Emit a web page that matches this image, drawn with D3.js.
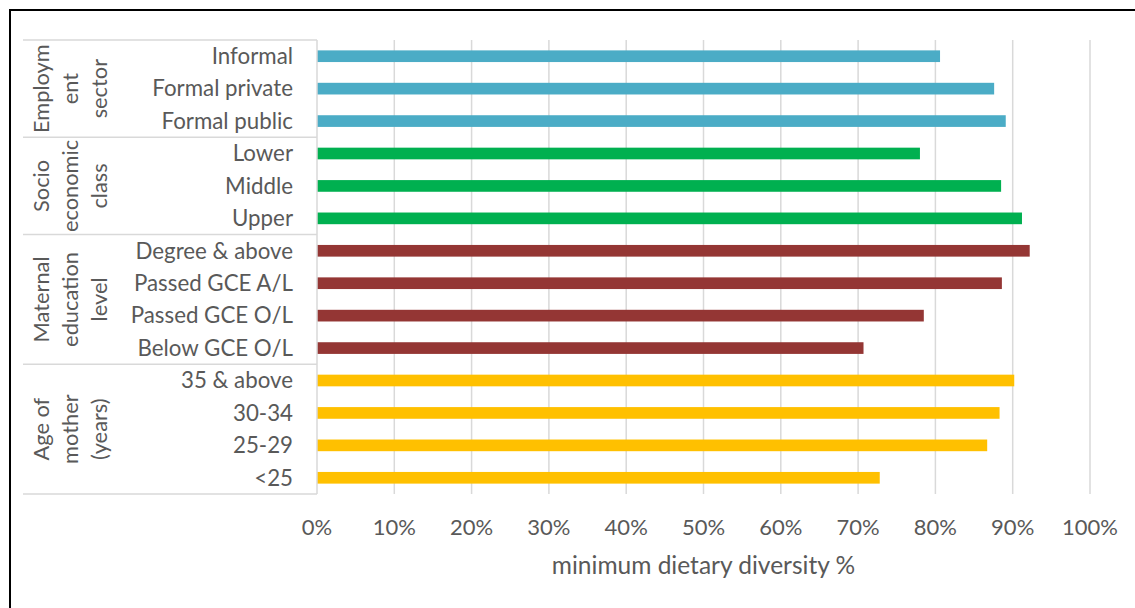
<!DOCTYPE html>
<html>
<head>
<meta charset="utf-8">
<script src="https://cdn.jsdelivr.net/npm/d3@7"></script>
<style>
  body { margin: 0; background: #fff; }
  text { font-family: Lato, "Open Sans", sans-serif; fill: #595959; }
</style>
</head>
<body>
<div id="chart"></div>
<script>
// groups, top to bottom
const groupNames = [
    ["Employm", "ent", "sector"],
    ["Socio", "economic", "class"],
    ["Maternal", "education", "level"],
    ["Age of", "mother", "(years)"]
];
const groupColors = ["#4bacc6", "#00b050", "#943634", "#ffc000"];

// categories per group, top to bottom
const groupCategories = [
    ["Informal", "Formal private", "Formal public"],
    ["Lower", "Middle", "Upper"],
    ["Degree & above", "Passed GCE A/L", "Passed GCE O/L", "Below GCE O/L"],
    ["35 & above", "30-34", "25-29", "<25"]
];

// minimum dietary diversity %, same order as categories
const groupValues = [
    [80.6, 87.6, 89.1],
    [78.0, 88.5, 91.2],
    [92.2, 88.6, 78.5, 70.7],
    [90.2, 88.3, 86.7, 72.8]
];

const xTicks = [0, 10, 20, 30, 40, 50, 60, 70, 80, 90, 100];

const W = 1135, H = 608;
const plot = { left: 317, right: 1090, top: 40, bottom: 494 };

const svg = d3.select("#chart")
    .append("svg")
    .attr("width", W)
    .attr("height", H);

// outer chart border
svg.append("rect")
    .attr("x", 10)
    .attr("y", 10)
    .attr("width", W)
    .attr("height", H)
    .attr("fill", "white")
    .attr("stroke", "black")
    .attr("stroke-width", 2);

// flatten rows
const rows = [];
groupCategories.forEach((cats, gi) => {
    cats.forEach((c, ci) => {
        rows.push({ key: gi + "|" + c, label: c, group: gi, value: groupValues[gi][ci] });
    });
});

const x = d3.scaleLinear()
    .domain([0, 100])
    .range([plot.left, plot.right]);

const y = d3.scaleBand()
    .domain(rows.map(d => d.key))
    .range([plot.top, plot.bottom])
    .padding(0);

// gridlines
svg.append("g")
    .selectAll("line")
    .data(xTicks.slice(1))
    .enter()
    .append("line")
    .attr("x1", d => x(d))
    .attr("x2", d => x(d))
    .attr("y1", plot.top)
    .attr("y2", plot.bottom)
    .attr("stroke", "#d9d9d9")
    .attr("stroke-width", 1.5);

// x tick labels
svg.append("g")
    .selectAll("text")
    .data(xTicks)
    .enter()
    .append("text")
    .attr("x", d => x(d))
    .attr("y", 535)
    .attr("text-anchor", "middle")
    .style("font-size", "22px")
    .text(d => d + "%");

// x axis title
svg.append("text")
    .attr("x", (plot.left + plot.right) / 2)
    .attr("y", 574)
    .attr("text-anchor", "middle")
    .style("font-size", "24.5px")
    .text("minimum dietary diversity %");

// bars
const barH = y.bandwidth() * 0.36;
svg.append("g")
    .selectAll("rect")
    .data(rows)
    .enter()
    .append("rect")
    .attr("x", x(0))
    .attr("y", d => y(d.key) + (y.bandwidth() - barH) / 2)
    .attr("width", d => x(d.value) - x(0))
    .attr("height", barH)
    .attr("fill", d => groupColors[d.group]);

// category labels
svg.append("g")
    .selectAll("text")
    .data(rows)
    .enter()
    .append("text")
    .attr("x", 293)
    .attr("y", d => y(d.key) + y.bandwidth() / 2)
    .attr("dy", "0.35em")
    .attr("text-anchor", "end")
    .style("font-size", "22.3px")
    .text(d => d.label);

// group boundaries and labels
let start = 0;
const bounds = [plot.top];
const groupSpans = [];
groupCategories.forEach((cats, gi) => {
    const first = rows[start].key;
    const last = rows[start + cats.length - 1].key;
    const y0 = y(first), y1 = y(last) + y.bandwidth();
    groupSpans.push({ gi, y0, y1 });
    bounds.push(y1);
    start += cats.length;
});

svg.append("g")
    .selectAll("line")
    .data(bounds)
    .enter()
    .append("line")
    .attr("x1", 23)
    .attr("x2", plot.left)
    .attr("y1", d => d)
    .attr("y2", d => d)
    .attr("stroke", "#d9d9d9")
    .attr("stroke-width", 1.5);

// axis line
svg.append("line")
    .attr("x1", plot.left)
    .attr("x2", plot.left)
    .attr("y1", plot.top)
    .attr("y2", plot.bottom)
    .attr("stroke", "#d9d9d9")
    .attr("stroke-width", 1.5);

const lineGap = 29;
groupSpans.forEach(g => {
    const cy = (g.y0 + g.y1) / 2;
    const lines = groupNames[g.gi];
    const t = svg.append("text")
        .attr("transform", `translate(70,${cy}) rotate(-90)`)
        .attr("text-anchor", "middle")
        .style("font-size", "21.8px");
    lines.forEach((l, i) => {
        t.append("tspan")
            .attr("x", 0)
            .attr("y", (i - (lines.length - 1) / 2) * lineGap)
            .attr("dy", "0.35em")
            .text(l);
    });
});
</script>
</body>
</html>
